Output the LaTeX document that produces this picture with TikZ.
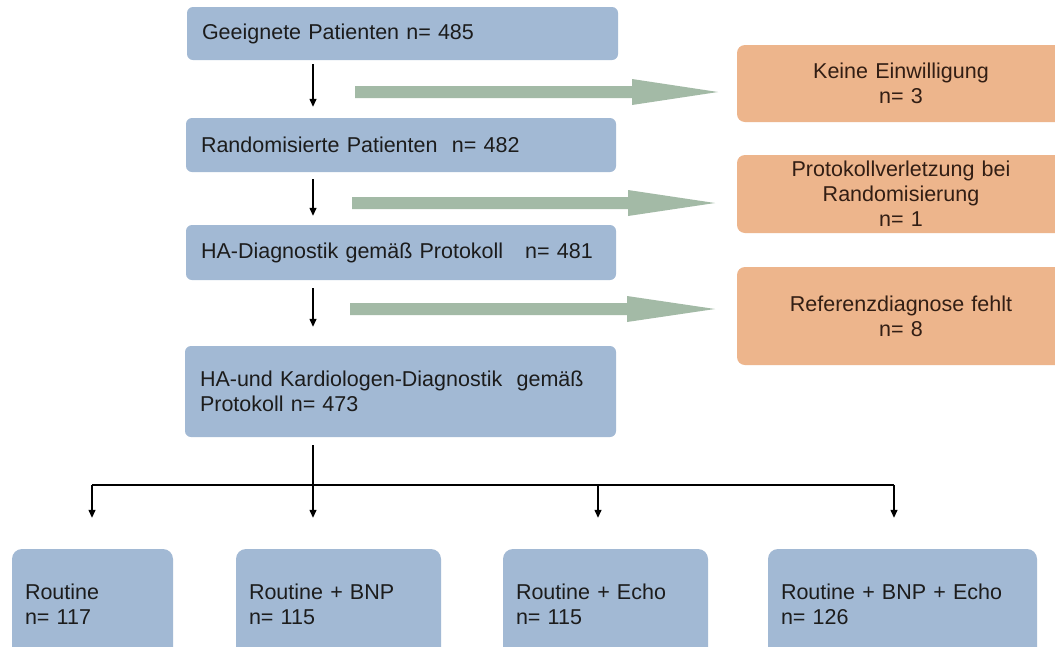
\documentclass[tikz,border=0pt]{standalone}
\usepackage{fontspec}
\setmainfont{Liberation Sans}
\usetikzlibrary{arrows.meta}
\definecolor{boxblue}{RGB}{162,185,212}
\definecolor{boxorange}{RGB}{237,181,140}
\definecolor{arrgreen}{RGB}{163,186,166}
\definecolor{txtdark}{RGB}{28,28,28}
\definecolor{txtbrown}{RGB}{50,30,20}
\begin{document}
\begin{tikzpicture}[x=1pt,y=-1pt,
  basefont/.style={font=\fontsize{21.5}{25}\selectfont},
  bluebox/.style={basefont, fill=boxblue, draw=none, rounded corners=6pt,
    inner xsep=15pt, inner ysep=0pt, align=left, text=txtdark},
  orangebox/.style={basefont, fill=boxorange, draw=none, rounded corners=8pt,
    inner xsep=10pt, inner ysep=0pt, align=center, text=txtbrown,
    text width=308pt},
  leafbox/.style={basefont, fill=boxblue, draw=none, rounded corners=10pt,
    inner xsep=13pt, inner ysep=0pt, align=left, text=txtdark},
  blk/.style={draw=black, line width=1.3pt, -{Triangle[length=8pt,width=7pt]}},
  treeline/.style={draw=black, line width=1.3pt},
  greenarrow/.style={fill=arrgreen, draw=none}
]
\useasboundingbox (0,0) rectangle (1055,646);
\fill[white] (0,0) rectangle (1055,646);
\clip (0,0) rectangle (1055,646);

% main column
\node[bluebox, text width=401pt, minimum height=53pt] (g1) at (402.5,33.5)
  {Geeignete Patienten n= 485};
\node[bluebox, text width=400pt, minimum height=54pt] (g2) at (401,145)
  {Randomisierte Patienten\ \ n= 482};
\node[bluebox, text width=400pt, minimum height=55pt] (g3) at (401,252.5)
  {HA-Diagnostik gemäß Protokoll\hspace{22pt}n= 481};
\node[bluebox, text width=401pt, minimum height=91pt] (g4) at (400.5,391.5)
  {HA-und Kardiologen-Diagnostik\ \ gemäß\\Protokoll n= 473};

% exclusion boxes
\node[orangebox, minimum height=77pt] (o1) at (901,83.5)
  {Keine Einwilligung\\n= 3};
\node[orangebox, minimum height=78pt] (o2) at (901,194)
  {Protokollverletzung bei\\Randomisierung\\n= 1};
\node[orangebox, minimum height=98pt] (o3) at (901,316)
  {Referenzdiagnose fehlt\\n= 8};

% leaf boxes
\node[leafbox, text width=135pt, minimum height=111pt] (r1) at (92.5,604.5)
  {Routine\\n= 117};
\node[leafbox, text width=179pt, minimum height=111pt] (r2) at (338.5,604.5)
  {Routine + BNP\\n= 115};
\node[leafbox, text width=179pt, minimum height=111pt] (r3) at (605.5,604.5)
  {Routine + Echo\\n= 115};
\node[leafbox, text width=243pt, minimum height=111pt] (r4) at (902.5,604.5)
  {Routine + BNP + Echo\\n= 126};

% small black arrows
\coordinate (c1) at (313,0);
\draw[blk] ([yshift=-4pt]g1.south -| c1) -- ([yshift=11pt]g2.north -| c1);
\draw[blk] ([yshift=-7pt]g2.south -| c1) -- ([yshift=9pt]g3.north -| c1);
\draw[blk] ([yshift=-8pt]g3.south -| c1) -- ([yshift=19pt]g4.north -| c1);

% green exclusion arrows
\fill[greenarrow] (355,86) -- (632,86) -- (632,79) -- (718,92) -- (632,105)
  -- (632,98) -- (355,98) -- cycle;
\fill[greenarrow] (352,197) -- (628,197) -- (628,190) -- (715,203) -- (628,216)
  -- (628,209) -- (352,209) -- cycle;
\fill[greenarrow] (350,303) -- (627,303) -- (627,296) -- (715,309) -- (627,322)
  -- (627,315) -- (350,315) -- cycle;

% tree to the four groups
\coordinate (j1) at (92,485);
\coordinate (j2) at (313,485);
\coordinate (j3) at (598,485);
\coordinate (j4) at (894,485);
\draw[treeline] ([yshift=-8pt]g4.south -| c1) -- (j2);
\draw[treeline] (j1) -- (j4);
\draw[blk] (j1) -- ([yshift=31pt]r1.north -| j1);
\draw[blk] (j2) -- ([yshift=31pt]r2.north -| j2);
\draw[blk] (j3) -- ([yshift=31pt]r3.north -| j3);
\draw[blk] (j4) -- ([yshift=31pt]r4.north -| j4);
\end{tikzpicture}
\end{document}
